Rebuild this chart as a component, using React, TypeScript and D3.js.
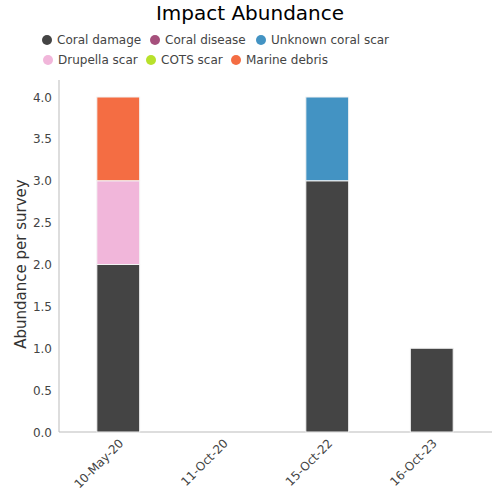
import React from "react";
import * as d3 from "d3";

const surveys = ["10-May-20", "11-Oct-20", "15-Oct-22", "16-Oct-23"];
const impactTypes = ["Coral damage", "Coral disease", "Unknown coral scar", "Drupella scar", "COTS scar", "Marine debris"];
const impactColors = ["#444444", "#a6507c", "#4393c3", "#f1b6da", "#b8e12b", "#f46d43"];
const coralDamage = [2, 0, 3, 1];
const coralDisease = [0, 0, 0, 0];
const unknownCoralScar = [0, 0, 1, 0];
const drupellaScar = [1, 0, 0, 0];
const cotsScar = [0, 0, 0, 0];
const marineDebris = [1, 0, 0, 0];
const yTicks = [0, 0.5, 1, 1.5, 2, 2.5, 3, 3.5, 4];

const seriesValues = [coralDamage, coralDisease, unknownCoralScar, drupellaScar, cotsScar, marineDebris];

export default function App() {
  const W = 500, H = 500;
  const left = 59, right = 492, top = 97, bottom = 432;
  const font = "DejaVu Sans, Verdana, sans-serif";

  const rows = surveys.map((s, i) => {
    const r: any = { survey: s };
    impactTypes.forEach((t, k) => (r[t] = seriesValues[k][i]));
    return r;
  });
  const stacked = d3.stack().keys(impactTypes)(rows);

  const x = d3.scaleBand().domain(surveys).range([66, 484]).paddingInner(0).paddingOuter(0);
  const y = d3.scaleLinear().domain([0, 4]).range([bottom, top]);
  const bw = x.bandwidth() * 0.41;

  const legendRows = [
    [{ i: 0, cx: 47 }, { i: 1, cx: 155 }, { i: 2, cx: 261 }],
    [{ i: 3, cx: 48 }, { i: 4, cx: 151 }, { i: 5, cx: 236 }],
  ];

  return (
    <svg width={W} height={H} style={{ position: "absolute", left: 0, top: 0, fontFamily: font }}>
      <rect width={W} height={H} fill="#fff" />
      <text x={250} y={20} textAnchor="middle" fontSize={20} fill="#000">Impact Abundance</text>
      {legendRows.map((row, ri) =>
        row.map(({ i, cx }) => (
          <g key={impactTypes[i]}>
            <circle cx={cx} cy={40 + ri * 20} r={5} fill={impactColors[i]} />
            <text x={cx + 10} y={44 + ri * 20} fontSize={12} fill="#444">{impactTypes[i]}</text>
          </g>
        ))
      )}
      <line x1={left} x2={left} y1={80} y2={bottom} stroke="#bbb" />
      <line x1={left} x2={right} y1={bottom} y2={bottom} stroke="#bbb" />
      {yTicks.map((t) => (
        <text key={t} x={52} y={y(t) + 4.5} textAnchor="end" fontSize={12} fill="#444">{t.toFixed(1)}</text>
      ))}
      <text transform={`translate(26,264) rotate(-90)`} textAnchor="middle" fontSize={15} fill="#333">Abundance per survey</text>
      {stacked.map((layer, k) => (
        <g key={layer.key} fill={impactColors[k]}>
          {layer.map((d, i) =>
            d[1] - d[0] > 0 ? (
              <rect
                key={i}
                x={(x(surveys[i]) as number) + x.bandwidth() / 2 - bw / 2}
                y={y(d[1])}
                width={bw}
                height={y(d[0]) - y(d[1])}
                stroke="#f4f4f4"
                strokeWidth={1}
              />
            ) : null
          )}
        </g>
      ))}
      {surveys.map((s) => {
        const cx = (x(s) as number) + x.bandwidth() / 2;
        return (
          <text key={s} transform={`translate(${cx + 6},${bottom + 12}) rotate(-45)`} textAnchor="end" fontSize={12} fill="#444">{s}</text>
        );
      })}
    </svg>
  );
}
